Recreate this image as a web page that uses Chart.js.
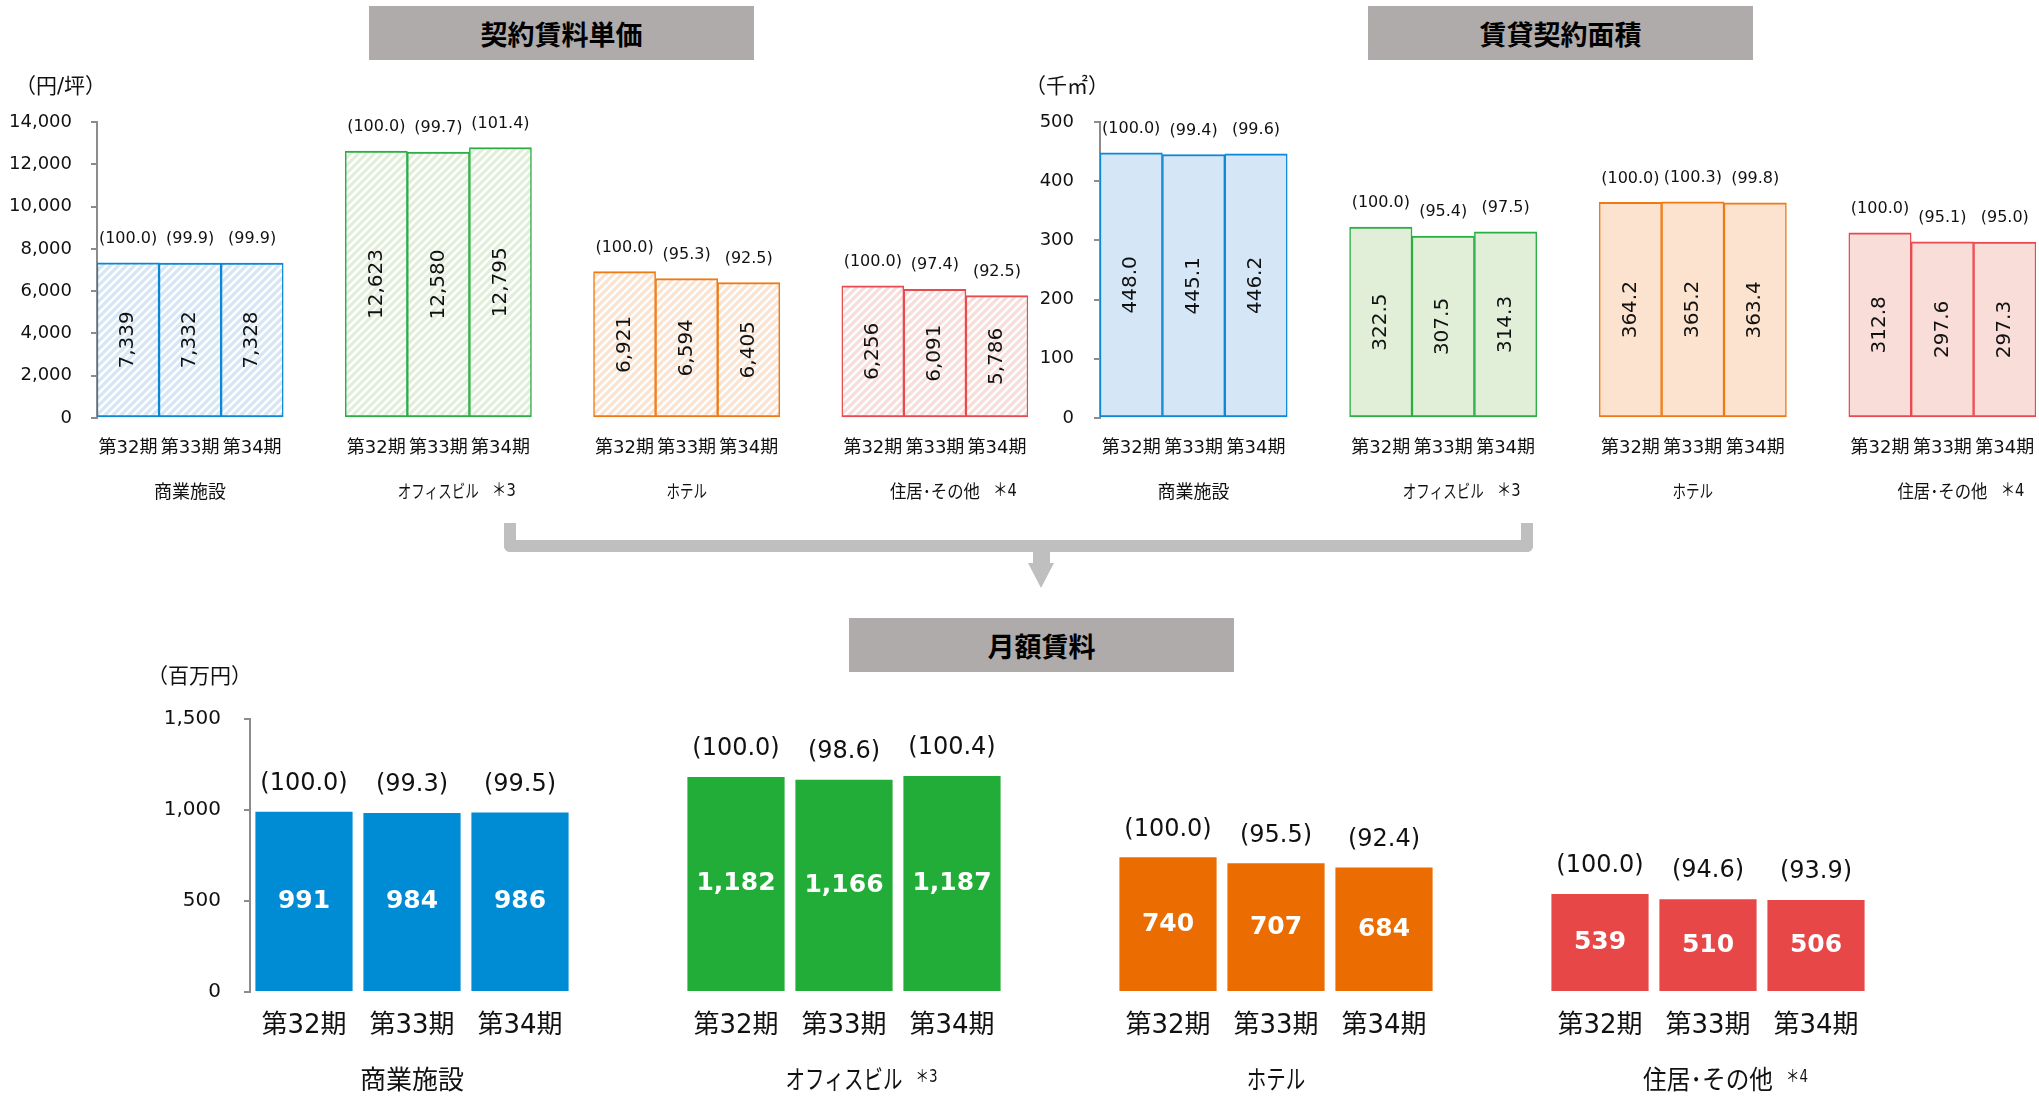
<!DOCTYPE html>
<html lang="ja">
<head>
<meta charset="utf-8">
<script src="https://cdn.jsdelivr.net/npm/chart.js@4.4.0/dist/chart.umd.min.js"></script>
<style>
  html, body { margin: 0; padding: 0; background: #fff; }
  #page { position: relative; width: 2039px; height: 1096px; overflow: hidden; }
  canvas { position: absolute; }
  .title {
    position: absolute; background: #afabab; color: #000;
    font-family: "Noto Sans CJK JP", sans-serif; font-weight: bold; font-size: 27px;
    display: flex; align-items: center; justify-content: center;
  }
  #bracket {
    position: absolute; left: 504px; top: 523px; width: 1029px; height: 29px; box-sizing: border-box;
    border: 12px solid #bfbfbf; border-top: none; border-radius: 0 0 6px 6px;
  }
  #stem { position: absolute; left: 1033px; top: 550px; width: 17px; height: 14px; background: #bfbfbf; }
  #head {
    position: absolute; left: 1028px; top: 563px; width: 0; height: 0;
    border-left: 13px solid transparent; border-right: 13px solid transparent; border-top: 25px solid #bfbfbf;
  }
</style>
</head>
<body>
<div id="page">
  <div class="title" style="left:369px;top:6px;width:385px;height:54px;">契約賃料単価</div>
  <div class="title" style="left:1368px;top:6px;width:385px;height:54px;">賃貸契約面積</div>
  <div class="title" style="left:849px;top:618px;width:385px;height:54px;">月額賃料</div>
  <div id="bracket"></div>
  <div id="stem"></div>
  <div id="head"></div>
  <canvas id="c1" width="1040" height="460" style="left:0;top:60px;"></canvas>
  <canvas id="c2" width="1039" height="460" style="left:1000px;top:60px;"></canvas>
  <canvas id="c3" width="2039" height="456" style="left:0;top:640px;"></canvas>
</div>
<script>
const FONT = '"DejaVu Sans", "Noto Sans CJK JP", sans-serif';

// categories
const periods = ['第32期', '第33期', '第34期'];
const groupNames = ['商業施設', 'オフィスビル', 'ホテル', '住居･その他'];
const groupNotes = ['', '＊3', '', '＊4'];

// 契約賃料単価 (円/坪) and index
const unitRent = [[7339, 7332, 7328], [12623, 12580, 12795], [6921, 6594, 6405], [6256, 6091, 5786]];
const unitRentIdx = [[100.0, 99.9, 99.9], [100.0, 99.7, 101.4], [100.0, 95.3, 92.5], [100.0, 97.4, 92.5]];

// 賃貸契約面積 (千㎡) and index
const leasedArea = [[448.0, 445.1, 446.2], [322.5, 307.5, 314.3], [364.2, 365.2, 363.4], [312.8, 297.6, 297.3]];
const leasedAreaIdx = [[100.0, 99.4, 99.6], [100.0, 95.4, 97.5], [100.0, 100.3, 99.8], [100.0, 95.1, 95.0]];

// 月額賃料 (百万円) and index
const monthlyRent = [[991, 984, 986], [1182, 1166, 1187], [740, 707, 684], [539, 510, 506]];
const monthlyRentIdx = [[100.0, 99.3, 99.5], [100.0, 98.6, 100.4], [100.0, 95.5, 92.4], [100.0, 94.6, 93.9]];

const edgeColors = ['#0a88d6', '#2aae45', '#f07a12', '#ea4a4f'];
const paleColors = ['#d5e6f6', '#e1efd9', '#fbe3cf', '#f9ddd8'];
const solidColors = ['#008bd5', '#22ac38', '#eb6c00', '#e84748'];

// spread the 4 groups over 15 slots (3 bars + 1 empty gap)
function spread(groups, gap) {
  const out = [];
  groups.forEach((g, i) => {
    out.push(...g);
    if (i < groups.length - 1) out.push(gap);
  });
  return out;
}
const slotLabels = spread(groupNames.map(() => periods), '');
const perGroup = (arr) => spread(arr.map(c => [c, c, c]), 'rgba(0,0,0,0)');

function hatch(ctx, color) {
  const tile = document.createElement('canvas');
  tile.width = tile.height = 8;
  const t = tile.getContext('2d');
  t.fillStyle = color;
  t.fillRect(0, 0, 8, 8);
  t.strokeStyle = '#ffffff';
  t.lineWidth = 2.4;
  t.beginPath();
  t.moveTo(-2, 10); t.lineTo(10, -2);
  t.moveTo(-2, 2); t.lineTo(2, -2);
  t.moveTo(6, 10); t.lineTo(10, 6);
  t.stroke();
  return ctx.createPattern(tile, 'repeat');
}

function drawKana(ctx, text, x, y, size) {
  // kana in the original font is narrower than the CJK font here
  const natural = ctx.measureText(text).width;
  const kana = (text.match(/[\u3040-\u30FF]/g) || []).length;
  const w = natural - kana * size * 0.25;
  ctx.fillText(text, x, y, w);
  return w;
}

function labelPlugin(o) {
  return {
    id: 'barText',
    afterDatasetsDraw(chart) {
      const {ctx, chartArea} = chart;
      const bars = chart.getDatasetMeta(0).data;
      const values = chart.data.datasets[0].data;
      ctx.save();
      ctx.textAlign = 'center';
      ctx.textBaseline = 'middle';
      bars.forEach((bar, i) => {
        const v = values[i];
        if (v == null) return;
        ctx.fillStyle = '#111';
        ctx.font = o.idxFont;
        ctx.fillText('(' + o.index[i].toFixed(1) + ')', bar.x, bar.y - o.idxGap);
        ctx.font = o.catSize + 'px ' + FONT;
        ctx.fillText(slotLabels[i], bar.x, chartArea.bottom + o.catGap);
        const mid = (bar.y + bar.base) / 2;
        ctx.font = o.valFont;
        ctx.fillStyle = o.valColor;
        const txt = o.fmt(v);
        if (o.rotate) {
          ctx.save();
          ctx.translate(bar.x, mid);
          ctx.rotate(-Math.PI / 2);
          ctx.fillText(txt, 0, 0);
          ctx.restore();
        } else {
          ctx.fillText(txt, bar.x, mid);
        }
      });
      // group names under the period labels
      ctx.fillStyle = '#111';
      groupNames.forEach((name, g) => {
        const cx = bars[g * 4 + 1].x;
        const y = chartArea.bottom + o.groupGap;
        ctx.font = o.groupSize + 'px ' + FONT;
        ctx.textAlign = 'center';
        const w = drawKana(ctx, name, cx, y, o.groupSize);
        if (groupNotes[g]) {
          ctx.font = o.noteSize + 'px ' + FONT;
          ctx.textAlign = 'left';
          ctx.fillText(groupNotes[g], cx + w / 2 + 13, y - o.noteRaise, o.noteWidth);
        }
      });
      // unit (the fullwidth closing paren carries its own right-side space)
      ctx.font = o.unitFont;
      ctx.textAlign = 'right';
      ctx.fillText(o.unit, chartArea.left + o.unitShift, chartArea.top - o.unitGap);
      ctx.restore();
    }
  };
}

function makeChart(id, cfg) {
  const canvas = document.getElementById(id);
  const ctx = canvas.getContext('2d');
  return new Chart(ctx, {
    type: 'bar',
    data: {
      labels: slotLabels,
      datasets: [{
        data: cfg.data,
        backgroundColor: cfg.fill(ctx),
        borderColor: cfg.edge,
        borderWidth: cfg.borderWidth,
        borderSkipped: false,
        barPercentage: cfg.barPct,
        categoryPercentage: 1
      }]
    },
    options: {
      responsive: false,
      animation: false,
      layout: { padding: cfg.padding },
      plugins: { legend: { display: false }, tooltip: { enabled: false } },
      scales: {
        x: {
          ticks: { display: false },
          grid: { display: false, drawTicks: false },
          border: { display: false },
          afterFit: s => { s.height = cfg.xHeight; }
        },
        y: {
          min: 0, max: cfg.max,
          ticks: {
            stepSize: cfg.step, color: '#111', padding: cfg.tickPad,
            font: { size: cfg.tickSize, family: FONT },
            callback: v => v.toLocaleString('en-US')
          },
          grid: { display: true, drawOnChartArea: false, drawTicks: true, tickLength: 6, color: '#8c8c8c', lineWidth: 2 },
          border: { display: true, color: '#8c8c8c', width: 2 },
          afterFit: s => { s.width = cfg.yWidth; }
        }
      }
    },
    plugins: [labelPlugin(cfg.labels)]
  });
}

const thinEdge = { top: 2, bottom: 2, left: 1.5, right: 1.5 };

makeChart('c1', {
  data: spread(unitRent, null),
  fill: ctx => spread(paleColors.map(c => { const p = hatch(ctx, c); return [p, p, p]; }), 'rgba(0,0,0,0)'),
  edge: perGroup(edgeColors),
  borderWidth: thinEdge, barPct: 1,
  max: 14000, step: 2000,
  padding: { top: 62, left: 0, right: 12, bottom: 0 },
  yWidth: 97, xHeight: 102, tickSize: 18, tickPad: 19,
  labels: {
    index: spread(unitRentIdx, null), idxGap: 24, idxFont: '16px ' + FONT,
    valFont: '20px ' + FONT, valColor: '#111', rotate: true,
    fmt: v => v.toLocaleString('en-US'),
    catSize: 18, catGap: 30,
    groupGap: 75, groupSize: 18, noteSize: 18, noteRaise: 2, noteWidth: 24,
    unit: '（円/坪）', unitFont: '21px ' + FONT, unitGap: 34, unitShift: 9
  }
});

makeChart('c2', {
  data: spread(leasedArea, null),
  fill: () => perGroup(paleColors),
  edge: perGroup(edgeColors),
  borderWidth: thinEdge, barPct: 1,
  max: 500, step: 100,
  padding: { top: 62, left: 0, right: 3, bottom: 0 },
  yWidth: 100, xHeight: 102, tickSize: 18, tickPad: 20,
  labels: {
    index: spread(leasedAreaIdx, null), idxGap: 24, idxFont: '16px ' + FONT,
    valFont: '20px ' + FONT, valColor: '#111', rotate: true,
    fmt: v => v.toFixed(1),
    catSize: 18, catGap: 30,
    groupGap: 75, groupSize: 18, noteSize: 18, noteRaise: 2, noteWidth: 24,
    unit: '（千㎡）', unitFont: '21px ' + FONT, unitGap: 34, unitShift: 9
  }
});

makeChart('c3', {
  data: spread(monthlyRent, null),
  fill: () => perGroup(solidColors),
  edge: perGroup(solidColors),
  borderWidth: 0, barPct: 0.9,
  max: 1500, step: 500,
  padding: { top: 79, left: 0, right: 169, bottom: 0 },
  yWidth: 250, xHeight: 104, tickSize: 20, tickPad: 23,
  labels: {
    index: spread(monthlyRentIdx, null), idxGap: 28, idxFont: '24px ' + FONT,
    valFont: 'bold 25px ' + FONT, valColor: '#ffffff', rotate: false,
    fmt: v => v.toLocaleString('en-US'),
    catSize: 26, catGap: 34,
    groupGap: 90, groupSize: 26, noteSize: 17, noteRaise: 4, noteWidth: 22,
    unit: '（百万円）', unitFont: '21px ' + FONT, unitGap: 41, unitShift: 2
  }
});
</script>
</body>
</html>
